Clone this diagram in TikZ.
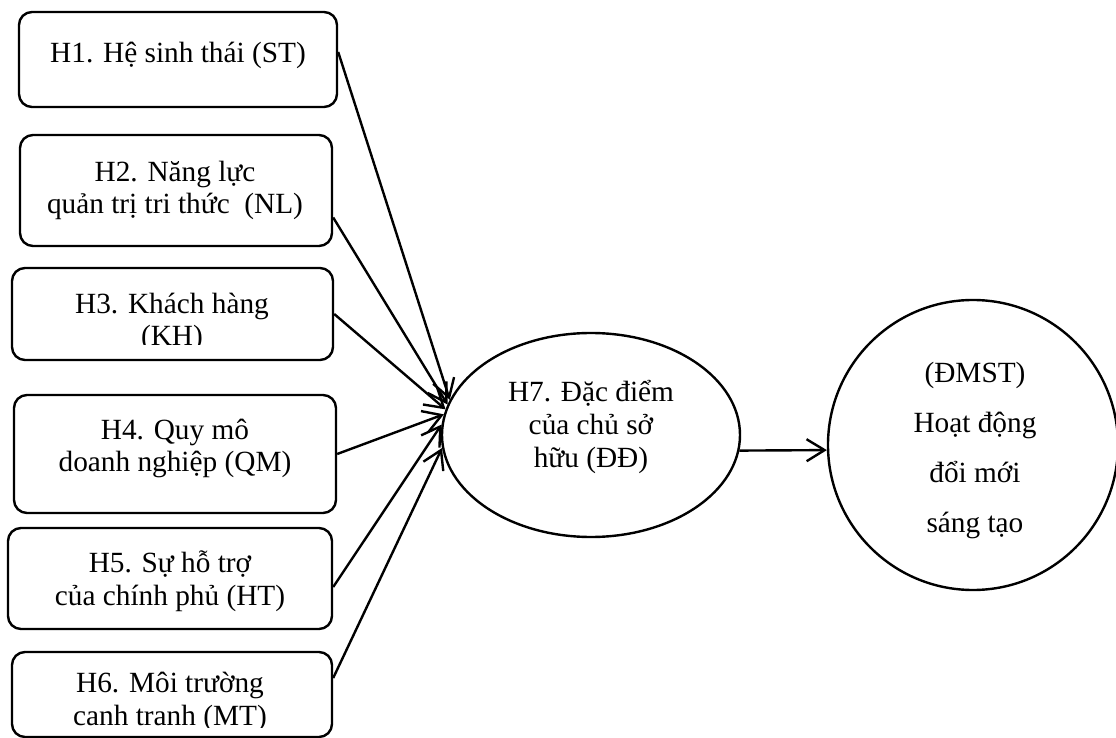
\documentclass[tikz,border=0pt]{standalone}
\usepackage{fontspec}
\setmainfont{Liberation Serif}
\usetikzlibrary{shapes.geometric,arrows.meta}

\begin{document}
\begin{tikzpicture}[x=0.5pt,y=-0.5pt,line width=1.2pt,
  >={Straight Barb[length=9pt,width=11pt]},
  hbox/.style={draw,rounded corners=6.5pt,inner sep=0pt},
  htext/.style={align=center,inner sep=0pt,anchor=base,
    font=\fontsize{14.65pt}{16.5pt}\selectfont}]
\useasboundingbox (0,0) rectangle (1116,738);
% the six boxes on the left (text nodes sit on the baseline of their last line)
\node[hbox,minimum width=159pt,minimum height=47.5pt] (st) at (178,59.5) {};
\node[htext] (st-text) at (178,63) {H1. Hệ sinh thái (ST)};
\node[hbox,minimum width=156pt,minimum height=55.5pt] (nl) at (176,190.5) {};
\node[htext] (nl-text) at (175,214) {H2. Năng lực\\quản trị tri thức \ (NL)};
\node[hbox,minimum width=160.5pt,minimum height=46pt] (kh) at (172.5,314) {};
\begin{scope}
  \clip (12,268) rectangle (333,345);
  \node[htext] (kh-text) at (172,346) {H3. Khách hàng\\(KH)};
\end{scope}
\node[hbox,minimum width=161pt,minimum height=59pt] (qm) at (175,454) {};
\node[htext] (qm-text) at (175,472) {H4. Quy mô\\doanh nghiệp (QM)};
\node[hbox,minimum width=162pt,minimum height=50.5pt] (ht) at (170,578.5) {};
\node[htext] (ht-text) at (170,605) {H5. Sự hỗ trợ\\của chính phủ (HT)};
\node[hbox,minimum width=160pt,minimum height=42.5pt] (mt) at (172,694.5) {};
\begin{scope}
  \clip (12,652) rectangle (332,727);
  \node[htext] (mt-text) at (170,725) {H6. Môi trường\\canh tranh (MT)};
\end{scope}
% the owner ellipse and the innovation circle
\node[draw,ellipse,minimum width=149pt,minimum height=102pt,inner sep=0pt] (dd) at (591,435) {};
\node[htext] (dd-text) at (591,467) {H7. Đặc điểm\\của chủ sở\\hữu (ĐĐ)};
\node[draw,circle,minimum size=145pt,inner sep=0pt] (dmst) at (973,445) {};
\node[htext,font=\fontsize{14.65pt}{25pt}\selectfont] (dmst-text) at (975,532)
  {(ĐMST)\\Hoạt động\\đổi mới\\sáng tạo};
% the arrows
\draw[->] ([yshift=3.75pt]st.east) -- (dd.166);
\draw[->] ([yshift=-13.5pt]nl.east) -- (dd.168);
\draw[->] (kh.east) -- (dd.170);
\draw[->] (qm.east) -- (dd.172);
\draw[->] ([yshift=-4.25pt]ht.east) -- (dd.176);
\draw[->] ([yshift=8.25pt]mt.east) -- (dd.185);
\draw[->] (dd.-6) -- (dmst.182);
\end{tikzpicture}
\end{document}
